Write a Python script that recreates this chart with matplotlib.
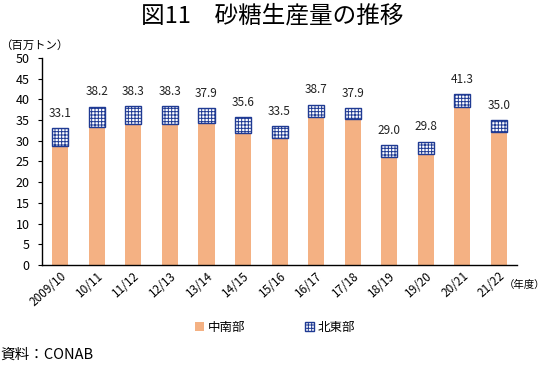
import matplotlib
matplotlib.use("Agg")
import matplotlib.pyplot as plt
import numpy as np

plt.rcParams["font.family"] = ["Noto Sans CJK JP", "DejaVu Sans"]
plt.rcParams["hatch.linewidth"] = 0.7

# data (百万トン)
years = ["2009/10", "10/11", "11/12", "12/13", "13/14", "14/15", "15/16",
         "16/17", "17/18", "18/19", "19/20", "20/21", "21/22"]
south = [28.7, 33.3, 34.1, 34.1, 34.3, 31.9, 30.7, 35.7, 35.3, 26.1, 26.8, 38.2, 32.1]
northeast = [4.4, 4.9, 4.2, 4.2, 3.6, 3.7, 2.8, 3.0, 2.6, 2.9, 3.0, 3.1, 2.9]

x = np.arange(len(years))
total = np.array(south) + np.array(northeast)

fig = plt.figure(figsize=(5.45, 3.66), dpi=100)
ax = fig.add_axes([0.077, 0.276, 0.872, 0.566])

ax.bar(x, south, width=0.44, color="#f4b183", label="中南部")
ax.bar(x, northeast, width=0.44, bottom=south, color="white",
       edgecolor="#1f3a93", hatch="+++++", linewidth=1.0, label="北東部")

for xi, t in zip(x, total):
    ax.text(xi, t + 2.0, f"{t:.1f}", ha="center", va="bottom", fontsize=8.5, color="#222222")

ax.set_xlim(-0.5, 12.5)
ax.set_ylim(0, 50)
ax.set_yticks(np.arange(0, 51, 5))
ax.tick_params(axis="y", labelsize=9, length=3, direction="out", pad=6)
ax.tick_params(axis="x", length=0, labelsize=8.5, pad=3)
ax.set_xticks(x)
ax.set_xticklabels(years, rotation=42, ha="right", rotation_mode="anchor")
for s in ["top", "right"]:
    ax.spines[s].set_visible(False)
ax.spines["left"].set_linewidth(1.0)
ax.spines["bottom"].set_linewidth(1.0)

fig.text(0.5, 0.955, "図11　砂糖生産量の推移", ha="center", va="center", fontsize=17)
fig.text(0.0, 0.877, "（百万トン）", ha="left", va="center", fontsize=8.2)
fig.text(0.925, 0.222, "（年度）", ha="left", va="center", fontsize=7.5)
fig.text(0.0, 0.03, "資料：CONAB", ha="left", va="center", fontsize=10.5)

fig.legend(loc="center", bbox_to_anchor=(0.505, 0.105), ncol=2, frameon=False,
           fontsize=9, handlelength=0.7, handleheight=0.7, handletextpad=0.3,
           columnspacing=4.8)

fig.savefig("out.png", dpi=100)
